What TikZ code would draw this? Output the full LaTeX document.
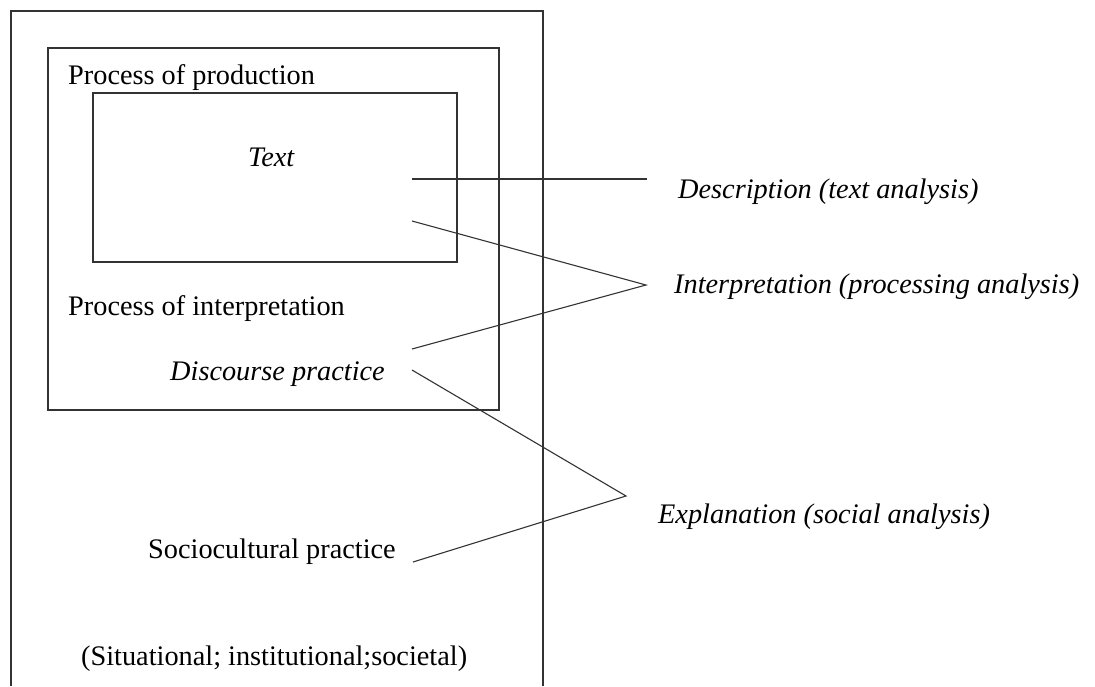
\documentclass[tikz,border=0pt]{standalone}
\usepackage{fontspec}
\setmainfont{Liberation Serif}
\begin{document}
\begin{tikzpicture}[x=1pt,y=-1pt,
  frame/.style={draw=black!80, line width=1.3pt},
  link/.style={draw=black!80, line width=1.1pt},
  lbl/.style={inner sep=0pt, anchor=base west, font=\fontsize{28.3}{32}\selectfont},
  ilbl/.style={lbl, font=\fontsize{28.3}{32}\selectfont\itshape}]
\useasboundingbox (0,0) rectangle (1095,686);
% boxes
\draw[frame] (11,686) -- (11,11) -- (543,11) -- (543,686);
\draw[frame] (48,48) rectangle (499,410);
\draw[frame] (93,93) rectangle (457,262);
% texts
\node[lbl]  (prod)   at (68,84)   {Process of production};
\node[ilbl] (text)   at (248,166) {Text};
\node[lbl]  (interp) at (68,315)  {Process of interpretation};
\node[ilbl] (disc)   at (170,380) {Discourse practice};
\node[lbl]  (socio)  at (148,558) {Sociocultural practice};
\node[lbl]  (sit)    at (81,665)  {(Situational; institutional;societal)};
\node[ilbl] (desc)   at (678,198) {Description (text analysis)};
\node[ilbl] (interA) at (674,293) {Interpretation (processing analysis)};
\node[ilbl] (expl)   at (658,523) {Explanation (social analysis)};
% connector points
\coordinate (d1) at (412,179);
\coordinate (d2) at (647,179);
\coordinate (i1) at (412,221);
\coordinate (i2) at (646,285);
\coordinate (i3) at (412,349);
\coordinate (e1) at (412,370);
\coordinate (e2) at (626,496);
\coordinate (e3) at (413,562);
\draw[link] (d1) -- (d2);
\draw[link] (i1) -- (i2) -- (i3);
\draw[link] (e1) -- (e2) -- (e3);
\end{tikzpicture}
\end{document}
